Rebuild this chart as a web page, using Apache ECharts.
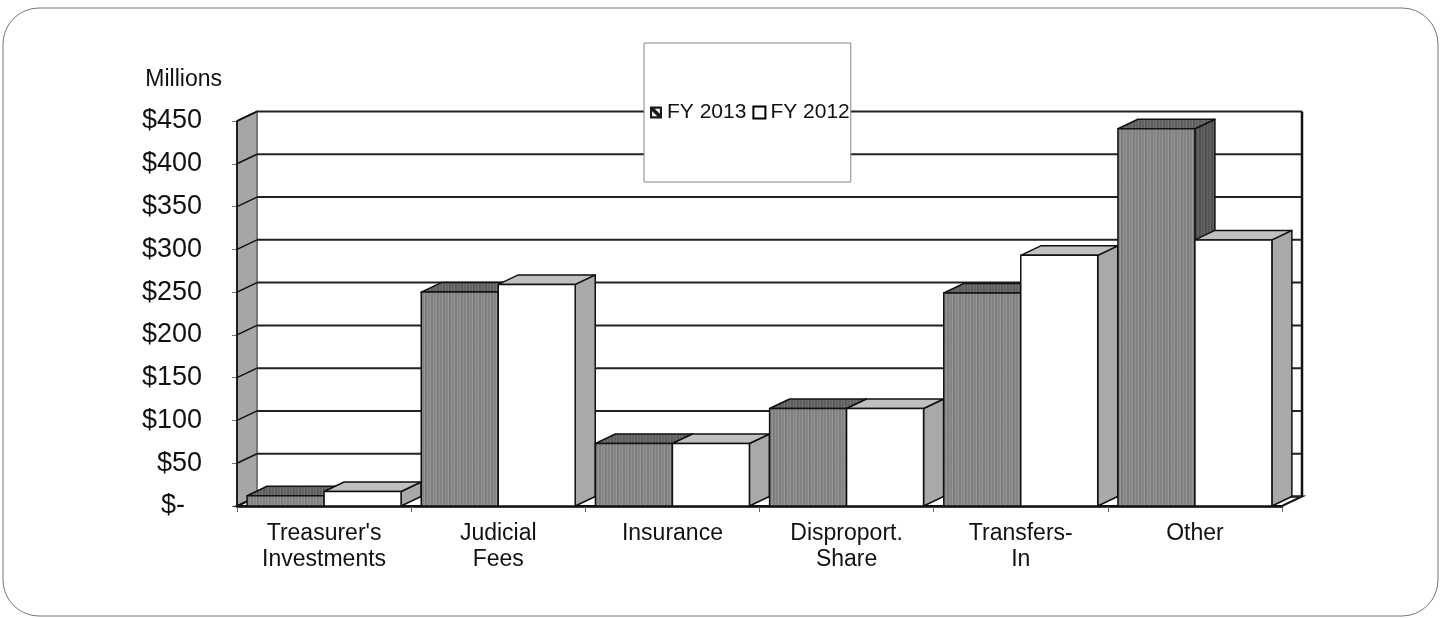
<!DOCTYPE html>
<html>
<head>
<meta charset="utf-8">
<title>Revenue by Source</title>
<script src="https://cdn.jsdelivr.net/npm/echarts@6/dist/echarts.min.js"></script>
<style>
  html, body { margin: 0; padding: 0; background: #fff; }
  #chart { width: 1442px; height: 618px; }
</style>
</head>
<body>
<div id="chart"></div>
<script>
// Revenue sources, in millions of dollars
const categories = ["Treasurer's\nInvestments", "Judicial\nFees", "Insurance", "Disproport.\nShare", "Transfers-\nIn", "Other"];
const fy2013 = [12, 250, 73, 114, 249, 441];
const fy2012 = [17, 259, 73, 114, 293, 311];
const yTicks = [0, 50, 100, 150, 200, 250, 300, 350, 400, 450];
const seriesNames = ['FY 2013', 'FY 2012'];

// depth of the 3D box (screen offset of the back plane)
const DX = 20, DY = -9.5;
const BAR_FRAC = 0.442;

// small repeating tiles that give the dark columns their woven look
function makeTile(rows) {
  const c = document.createElement('canvas');
  c.width = rows[0].length; c.height = rows.length;
  const g = c.getContext('2d');
  rows.forEach((r, y) => r.forEach((v, x) => {
    g.fillStyle = 'rgb(' + v + ',' + v + ',' + v + ')';
    g.fillRect(x, y, 1, 1);
  }));
  return c;
}
const baseRows = [
  [0x80, 0x9c, 0x86, 0x92, 0xa2, 0x7c],
  [0x8a, 0x90, 0x8c, 0x84, 0x98, 0x86],
  [0x7c, 0xa2, 0x82, 0x94, 0xa6, 0x78],
  [0x8c, 0x8e, 0x92, 0x86, 0x94, 0x8a],
  [0x82, 0x9e, 0x84, 0x96, 0xa0, 0x7e],
  [0x88, 0x92, 0x8e, 0x82, 0x9a, 0x84]
];
const shade = d => baseRows.map(r => r.map(v => Math.max(0, Math.min(255, v + d))));
const frontTile = { image: makeTile(shade(-6)), repeat: 'repeat' };
const topTile = { image: makeTile(shade(-40)), repeat: 'repeat' };
const sideTile = { image: makeTile(shade(-52)), repeat: 'repeat' };

const faceStyles = [
  { front: frontTile, top: topTile, side: sideTile },
  { front: '#ffffff', top: '#c0c0c0', side: '#a9a9a9' }
];
const EDGE = '#111';

function barRenderer(s) {
  return function (params, api) {
    const cat = api.value(0);
    const val = api.value(1);
    const base = api.coord([cat, 0]);
    const top = api.coord([cat, val]);
    const band = api.size([1, 0])[0];
    const w = band * BAR_FRAC;
    const x0 = base[0] - w + s * w;
    const x1 = x0 + w;
    const yb = base[1], yt = top[1];
    const st = faceStyles[s];
    const order = (cat * 2 + s) * 3;
    const line = { stroke: EDGE, lineWidth: 1.5, lineJoin: 'round' };
    return {
      type: 'group',
      children: [
        { type: 'polygon', z2: order,
          shape: { points: [[x1, yt], [x1 + DX, yt + DY], [x1 + DX, yb + DY], [x1, yb]] },
          style: Object.assign({ fill: st.side }, line) },
        { type: 'polygon', z2: order + 1,
          shape: { points: [[x0, yt], [x1, yt], [x1 + DX, yt + DY], [x0 + DX, yt + DY]] },
          style: Object.assign({ fill: st.top }, line) },
        { type: 'rect', z2: order + 2,
          shape: { x: x0, y: yt, width: w, height: yb - yt },
          style: Object.assign({ fill: st.front }, line) }
      ]
    };
  };
}

// walls, floor and back gridlines of the box
function wallRenderer(params, api) {
  const cs = params.coordSys;
  const L = cs.x, R = cs.x + cs.width;
  const T = api.coord([0, yTicks[yTicks.length - 1]])[1];
  const B = api.coord([0, 0])[1];
  const kids = [];
  kids.push({ type: 'polygon',
    shape: { points: [[L, B], [R, B], [R + DX, B + DY], [L + DX, B + DY]] },
    style: { fill: '#fff', stroke: EDGE, lineWidth: 2 } });
  kids.push({ type: 'polygon',
    shape: { points: [[L, T], [L + DX, T + DY], [L + DX, B + DY], [L, B]] },
    style: { fill: '#a6a6a6', stroke: EDGE, lineWidth: 1.5 } });
  kids.push({ type: 'line',
    shape: { x1: L + DX, y1: T + DY, x2: L + DX, y2: B + DY },
    style: { stroke: '#8a8a8a', lineWidth: 1.5 } });
  yTicks.forEach(v => {
    const y = api.coord([0, v])[1];
    kids.push({ type: 'line',
      shape: { x1: L, y1: y, x2: L + DX, y2: y + DY },
      style: { stroke: EDGE, lineWidth: 1.5 } });
    kids.push({ type: 'line',
      shape: { x1: L + DX, y1: y + DY, x2: R + DX, y2: y + DY },
      style: { stroke: '#222', lineWidth: 2 } });
  });
  kids.push({ type: 'line',
    shape: { x1: R + DX, y1: T + DY, x2: R + DX, y2: B + DY },
    style: { stroke: EDGE, lineWidth: 2.5 } });
  kids.push({ type: 'line',
    shape: { x1: L, y1: T, x2: L, y2: B },
    style: { stroke: EDGE, lineWidth: 1.5 } });
  return { type: 'group', children: kids };
}

const FONT = '"Liberation Sans", Arial, sans-serif';
const chart = echarts.init(document.getElementById('chart'), null, { renderer: 'canvas' });

chart.setOption({
  backgroundColor: '#fff',
  animation: false,
  graphic: [{
    type: 'rect', z: -10, silent: true,
    shape: { x: 3, y: 8, width: 1435, height: 608, r: 36 },
    style: { fill: '#fff', stroke: '#777', lineWidth: 1 }
  }],
  legend: {
    left: 644, top: 43,
    orient: 'horizontal',
    padding: [59, 1, 59, 6],
    backgroundColor: '#fff',
    borderColor: '#888', borderWidth: 1,
    itemWidth: 12, itemHeight: 12, itemGap: 6,
    textStyle: { fontFamily: FONT, fontSize: 21, color: '#111' },
    data: [
      { name: seriesNames[0],
        icon: 'path://M0,0H14V14H0Z M2.5,2.5V11.5H11.5V2.5Z M2.5,2.5H5.5L11.5,8.5V11.5H8.5L2.5,5.5Z',
        itemStyle: { color: '#1a1a1a' } },
      { name: seriesNames[1], icon: 'rect',
        itemStyle: { color: '#fff', borderColor: '#000', borderWidth: 2 } }
    ]
  },
  grid: { left: 237, right: 160, top: 121, bottom: 112, containLabel: false },
  xAxis: {
    type: 'category',
    data: categories,
    axisLine: { show: true, lineStyle: { color: '#000', width: 2.5 } },
    axisTick: { show: true, length: 6, lineStyle: { color: '#666' } },
    axisLabel: { fontFamily: FONT, fontSize: 23, color: '#111', lineHeight: 26, margin: 15, interval: 0 },
    splitLine: { show: false }
  },
  yAxis: {
    type: 'value',
    min: 0, max: 450, interval: 50,
    name: 'Millions',
    nameLocation: 'end',
    nameGap: 30,
    nameTextStyle: { fontFamily: FONT, fontSize: 23, color: '#111', align: 'right', padding: [0, 15, 0, 0] },
    axisLine: { show: false },
    axisTick: { show: true, length: 5, lineStyle: { color: '#777' } },
    splitLine: { show: false },
    axisLabel: {
      fontFamily: FONT, fontSize: 27, color: '#111', margin: 35,
      formatter: v => v === 0 ? '{z|$-}' : '$' + v,
      rich: { z: { fontFamily: FONT, fontSize: 27, color: '#111', padding: [0, 17, 0, 0] } }
    }
  },
  series: [
    { type: 'custom', name: 'box', z: 1, silent: true, renderItem: wallRenderer, data: [[0, 0]] },
    { type: 'custom', name: seriesNames[0], z: 2,
      renderItem: barRenderer(0),
      data: fy2013.map((v, i) => [i, v]) },
    { type: 'custom', name: seriesNames[1], z: 2,
      renderItem: barRenderer(1),
      data: fy2012.map((v, i) => [i, v]) }
  ]
});
</script>
</body>
</html>
